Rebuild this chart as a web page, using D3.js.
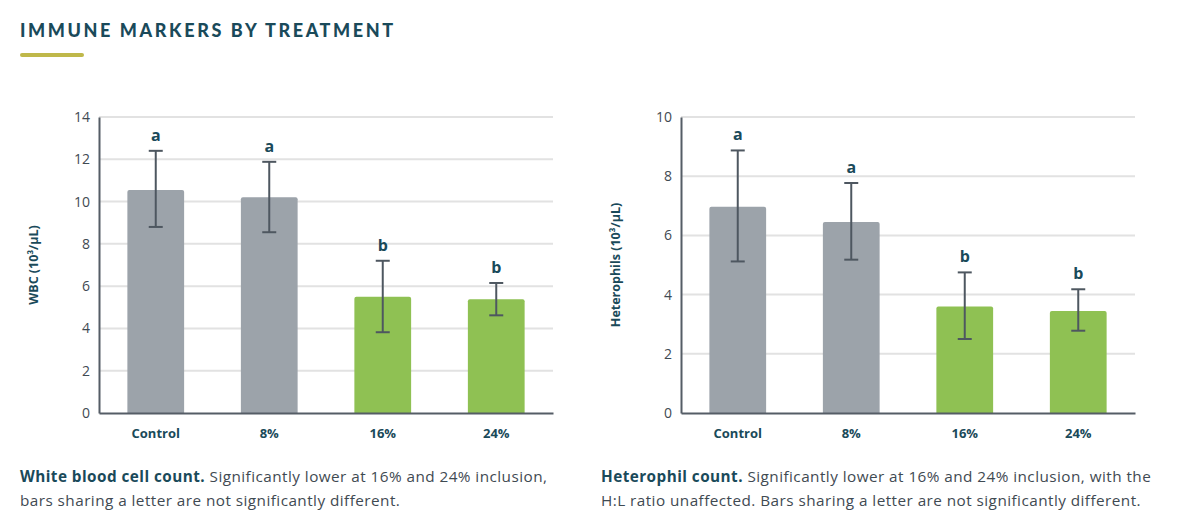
<!DOCTYPE html>
<html>
<head>
<meta charset="utf-8">
<script src="https://cdn.jsdelivr.net/npm/d3@7"></script>
<style>
  body { margin: 0; background: #fff; font-family: "Open Sans", Lato, sans-serif; }
  .tick text { font-family: "Open Sans", sans-serif; }
</style>
</head>
<body>
<svg id="chart" width="1190" height="530"></svg>
<script>
// categories shared by both panels
const treatments = ["Control", "8%", "16%", "24%"];

// WBC (10³/µL)
const wbcMean = [10.55, 10.2, 5.5, 5.38];
const wbcLow = [8.8, 8.55, 3.82, 4.62];
const wbcHigh = [12.4, 11.88, 7.2, 6.15];
const wbcLetters = ["a", "a", "b", "b"];
const wbcTicks = [0, 2, 4, 6, 8, 10, 12, 14];

// Heterophils (10³/µL)
const hetMean = [6.97, 6.45, 3.6, 3.45];
const hetLow = [5.12, 5.18, 2.5, 2.78];
const hetHigh = [8.87, 7.77, 4.75, 4.18];
const hetLetters = ["a", "a", "b", "b"];
const hetTicks = [0, 2, 4, 6, 8, 10];

const barColors = ["#9ca3aa", "#9ca3aa", "#8fc153", "#8fc153"];
const teal = "#1a4a5a";
const textGrey = "#3f4a52";

const svg = d3.select("#chart");

// heading
svg.append("text")
    .attr("x", 20)
    .attr("y", 37)
    .attr("fill", teal)
    .attr("font-family", "Lato, sans-serif")
    .attr("font-size", 18)
    .attr("font-weight", 900)
    .attr("letter-spacing", 2.6)
    .text("IMMUNE MARKERS BY TREATMENT");

svg.append("rect")
    .attr("x", 20).attr("y", 53)
    .attr("width", 64).attr("height", 4)
    .attr("rx", 2)
    .attr("fill", "#bfb84a");

function panel(opts) {
    const left = opts.left, top = 117, bottom = 413, w = 454;

    const x = d3.scaleBand()
        .domain(treatments)
        .range([left, left + w])
        .paddingInner(0.5)
        .paddingOuter(0.25);

    const y = d3.scaleLinear()
        .domain([0, opts.max])
        .range([bottom, top]);

    const g = svg.append("g");

    // gridlines
    g.append("g")
        .selectAll("line")
        .data(opts.ticks.filter(d => d > 0))
        .join("line")
        .attr("x1", left).attr("x2", left + w)
        .attr("y1", d => y(d)).attr("y2", d => y(d))
        .attr("stroke", "#e2e2e2")
        .attr("stroke-width", 2);

    // y axis
    const yAxis = g.append("g")
        .attr("transform", `translate(${left},0)`)
        .call(d3.axisLeft(y).tickValues(opts.ticks).tickSize(0).tickPadding(9));
    yAxis.select(".domain").attr("stroke", "#555d66").attr("stroke-width", 2);
    yAxis.selectAll(".tick text")
        .attr("font-size", 14)
        .attr("fill", textGrey);

    // bars
    g.append("g")
        .selectAll("path")
        .data(treatments)
        .join("path")
        .attr("d", (d, i) => {
            const x0 = x(d), bw = x.bandwidth(), y0 = y(opts.mean[i]), r = 2;
            return `M${x0},${bottom}V${y0 + r}Q${x0},${y0} ${x0 + r},${y0}H${x0 + bw - r}Q${x0 + bw},${y0} ${x0 + bw},${y0 + r}V${bottom}Z`;
        })
        .attr("fill", (d, i) => barColors[i]);

    // x axis
    const xAxis = g.append("g")
        .attr("transform", `translate(0,${bottom})`)
        .call(d3.axisBottom(x).tickSize(0).tickPadding(16));
    xAxis.select(".domain").attr("stroke", "#555d66").attr("stroke-width", 2);
    xAxis.selectAll(".tick text")
        .attr("font-size", 13)
        .attr("font-weight", 700)
        .attr("fill", teal);

    // error bars
    const eb = g.append("g")
        .attr("stroke", "#4e5760")
        .attr("stroke-width", 2);
    treatments.forEach((d, i) => {
        const cx = x(d) + x.bandwidth() / 2;
        eb.append("line")
            .attr("x1", cx).attr("x2", cx)
            .attr("y1", y(opts.low[i])).attr("y2", y(opts.high[i]));
        [opts.low[i], opts.high[i]].forEach(v => {
            eb.append("line")
                .attr("x1", cx - 7).attr("x2", cx + 7)
                .attr("y1", y(v)).attr("y2", y(v));
        });
    });

    // significance letters
    g.append("g")
        .selectAll("text")
        .data(treatments)
        .join("text")
        .attr("x", d => x(d) + x.bandwidth() / 2)
        .attr("y", (d, i) => y(opts.high[i]) - 10)
        .attr("text-anchor", "middle")
        .attr("font-size", 16)
        .attr("font-weight", 700)
        .attr("fill", teal)
        .text((d, i) => opts.letters[i]);

    // y axis title
    g.append("text")
        .attr("transform", `translate(${left - 61},${(top + bottom) / 2}) rotate(-90)`)
        .attr("text-anchor", "middle")
        .attr("font-size", 12.5)
        .attr("font-weight", 700)
        .attr("fill", teal)
        .text(opts.title);

    // caption
    const cap = svg.append("text")
        .attr("x", opts.capX)
        .attr("font-size", 15.3)
        .attr("letter-spacing", 0.45)
        .attr("fill", textGrey);
    opts.caption.forEach((line, i) => {
        const t = cap.append("tspan")
            .attr("x", opts.capX)
            .attr("y", 482 + i * 24);
        if (line[0]) {
            t.append("tspan").attr("font-weight", 700).attr("fill", teal).text(line[0]);
        }
        t.append("tspan").text(line[1]);
    });
}

panel({
    left: 99, max: 14, ticks: wbcTicks,
    mean: wbcMean, low: wbcLow, high: wbcHigh, letters: wbcLetters,
    title: "WBC (10³/µL)",
    capX: 20,
    caption: [["White blood cell count.", " Significantly lower at 16% and 24% inclusion,"],
              [null, "bars sharing a letter are not significantly different."]]
});

panel({
    left: 681, max: 10, ticks: hetTicks,
    mean: hetMean, low: hetLow, high: hetHigh, letters: hetLetters,
    title: "Heterophils (10³/µL)",
    capX: 601,
    caption: [["Heterophil count.", " Significantly lower at 16% and 24% inclusion, with the"],
              [null, "H:L ratio unaffected. Bars sharing a letter are not significantly different."]]
});
</script>
</body>
</html>
